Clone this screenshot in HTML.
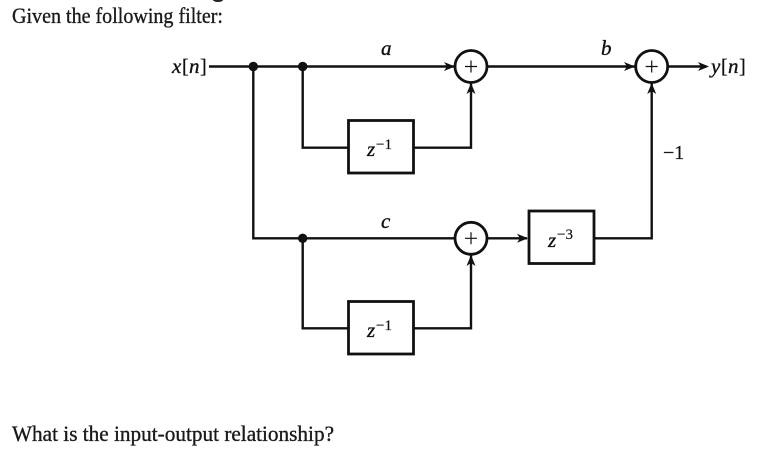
<!DOCTYPE html>
<html>
<head>
<meta charset="utf-8">
<style>
html,body{margin:0;padding:0;background:#fff;width:768px;height:457px;overflow:hidden}
svg{display:block}
.t{font-family:"Liberation Serif",serif;fill:#1a1a1a;stroke:#1a1a1a;stroke-width:.35px;font-size:22px}
.m{font-family:"Liberation Serif",serif;fill:#111;stroke:#111;stroke-width:.35px;font-style:italic;font-size:21px}
.n{font-family:"Liberation Serif",serif;fill:#111;stroke:#111;stroke-width:.25px;font-size:20px}
.s{font-family:"Liberation Serif",serif;fill:#111;stroke:#111;stroke-width:.2px;font-size:15px}
</style>
</head>
<body>
<svg width="768" height="457" viewBox="0 0 768 457" xmlns="http://www.w3.org/2000/svg">
<defs>
<path id="ah" d="M0 0 L-11 -4.5 L-8 0 L-11 4.5 Z" fill="#111"/>
</defs>
<text class="t" x="12" y="23" textLength="211" lengthAdjust="spacingAndGlyphs">Given the following filter:</text>
<text class="t" x="12" y="441" textLength="322" lengthAdjust="spacingAndGlyphs">What is the input-output relationship?</text>

<g fill="none" stroke="#111" stroke-width="2.4">
<path d="M209 66.5H455"/>
<path d="M253.3 66.5V238.3H455"/>
<path d="M302.7 66.5V147.7H348"/>
<path d="M414 147.7H471V83"/>
<path d="M302.7 238.3V328.3H348"/>
<path d="M414 328.3H471V255"/>
<path d="M487 66.5H635"/>
<path d="M487 238.3H527"/>
<path d="M594.3 238.3H651.7V83"/>
<path d="M667.7 66.5H706"/>
<rect x="348.5" y="120.5" width="65" height="52.5" stroke-width="2.8"/>
<rect x="348.5" y="301.5" width="65" height="52.5" stroke-width="2.8"/>
<rect x="529" y="211" width="65" height="52.5" stroke-width="2.8"/>
<circle cx="471" cy="66.5" r="16" fill="#fff" stroke-width="2.8"/>
<circle cx="651.7" cy="66.5" r="16" fill="#fff" stroke-width="2.8"/>
<circle cx="471" cy="238.3" r="16" fill="#fff" stroke-width="2.8"/>
<path d="M465 66.5h12M471 60.5v12M645.7 66.5h12M651.7 60.5v12M465 238.3h12M471 232.3v12" stroke-width="1.2"/>
</g>

<circle cx="253.3" cy="66.5" r="4.7" fill="#111"/>
<circle cx="302.7" cy="66.5" r="4.7" fill="#111"/>
<circle cx="302.7" cy="238.3" r="4.7" fill="#111"/>

<use href="#ah" x="455" y="66.5"/>
<use href="#ah" x="635" y="66.5"/>
<use href="#ah" x="528" y="238.3"/>
<use href="#ah" x="709" y="66.5"/>
<use href="#ah" transform="translate(471 83) rotate(-90)"/>
<use href="#ah" transform="translate(471 255) rotate(-90)"/>
<use href="#ah" transform="translate(651.7 83) rotate(-90)"/>

<text class="m" x="172" y="73">x</text><text class="n" x="182" y="73">[</text><text class="m" x="189" y="73">n</text><text class="n" x="200" y="73">]</text>
<text class="m" x="711" y="73">y</text><text class="n" x="721" y="73">[</text><text class="m" x="728" y="73">n</text><text class="n" x="739" y="73">]</text>
<text class="m" x="381" y="55">a</text>
<text class="m" x="601" y="55">b</text>
<text class="m" x="381" y="228">c</text>
<text class="n" x="663" y="159">−1</text>

<text class="m" x="367" y="156">z</text><text class="s" x="376" y="149">−1</text>
<text class="m" x="367" y="337">z</text><text class="s" x="376" y="330">−1</text>
<text class="m" x="548" y="247">z</text><text class="s" x="557" y="239">−3</text>

<ellipse cx="218" cy="0" rx="5" ry="2" fill="#222"/>
</svg>
</body>
</html>
